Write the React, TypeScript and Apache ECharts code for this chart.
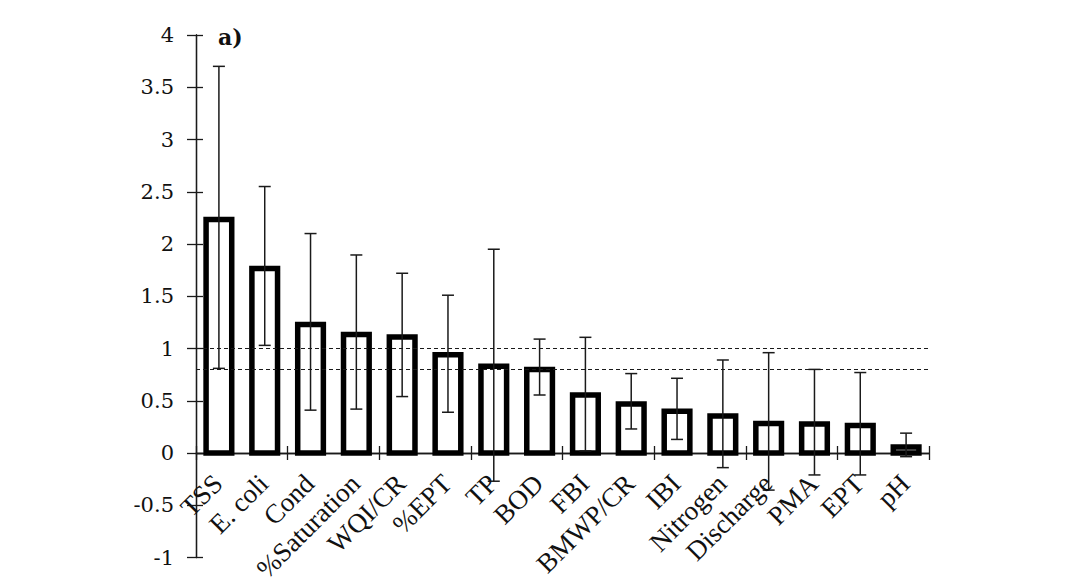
import React, { useEffect, useRef } from "react";
import * as echarts from "echarts";

const categories = ["TSS", "E. coli", "Cond", "%Saturation", "WQI/CR", "%EPT", "TP", "BOD", "FBI", "BMWP/CR", "IBI", "Nitrogen", "Discharge", "PMA", "EPT", "pH"];
const means = [2.235, 1.766, 1.23, 1.135, 1.11, 0.94, 0.83, 0.8, 0.555, 0.47, 0.4, 0.354, 0.283, 0.277, 0.264, 0.057];
const upper = [3.7, 2.55, 2.1, 1.895, 1.72, 1.51, 1.95, 1.09, 1.107, 0.76, 0.715, 0.89, 0.96, 0.8, 0.77, 0.19];
const lower = [0.81, 1.03, 0.41, 0.42, 0.54, 0.39, -0.27, 0.555, 0.02, 0.23, 0.13, -0.14, -0.355, -0.21, -0.21, -0.035];
const thresholds = [1, 0.8];
const yMin = -1;
const yMax = 4;
const yStep = 0.5;
const panelLabel = "a)";

const INK = "#1a1a1a";

export default function App() {
  const ref = useRef<HTMLDivElement>(null);
  useEffect(() => {
    if (!ref.current) return;
    const chart = echarts.init(ref.current, null, { renderer: "svg" });
    const barData = categories.map((_, i) => [i, means[i]]);
    const errData = categories.map((_, i) => [i, lower[i], upper[i]]);
    const labelData = categories.map((_, i) => [i, 0]);
    const yBase = {
      type: "value",
      min: yMin,
      max: yMax,
      interval: yStep,
      position: "left",
      splitLine: { show: false },
      axisLine: { show: true, onZero: false, lineStyle: { color: INK, width: 1.3 } },
    };
    const xBase = {
      type: "category",
      data: categories,
      position: "bottom",
      boundaryGap: true,
      splitLine: { show: false },
      axisLabel: { show: false },
    };
    chart.setOption({
      animation: false,
      backgroundColor: "#ffffff",
      grid: { left: 196, right: 139, top: 35, bottom: 22.5, containLabel: false, outerBoundsMode: "none" },
      xAxis: [
        {
          ...xBase,
          axisLine: { show: true, onZero: true, onZeroAxisIndex: 0, lineStyle: { color: INK, width: 1.3 } },
          axisTick: { show: true, inside: false, length: 7, alignWithLabel: false, lineStyle: { color: INK, width: 1.3 } },
        },
        {
          ...xBase,
          axisLine: { show: true, onZero: true, onZeroAxisIndex: 0, lineStyle: { color: INK, width: 1.3 } },
          axisTick: { show: true, inside: true, length: 7, alignWithLabel: false, lineStyle: { color: INK, width: 1.3 } },
        },
      ],
      yAxis: [
        {
          ...yBase,
          axisTick: { show: true, inside: false, length: 9, lineStyle: { color: INK, width: 1.3 } },
          axisLabel: {
            margin: 22,
            fontFamily: "DejaVu Serif",
            fontSize: 21,
            color: "#111",
          },
        },
        {
          ...yBase,
          axisTick: { show: true, inside: true, length: 7, lineStyle: { color: INK, width: 1.3 } },
          axisLabel: { show: false },
        },
      ],
      graphic: [
        {
          type: "text",
          left: 218,
          top: 26,
          style: {
            text: panelLabel,
            fontFamily: "DejaVu Serif",
            fontWeight: "bold",
            fontSize: 22,
            fill: "#111",
          },
        },
      ],
      series: [
        {
          type: "custom",
          xAxisIndex: 0,
          yAxisIndex: 0,
          data: barData,
          z: 3,
          clip: false,
          renderItem: (params: any, api: any) => {
            const i = api.value(0);
            const top = api.coord([i, api.value(1)]);
            const base = api.coord([i, 0]);
            const w = api.size([1, 0])[0] * 0.56;
            return {
              type: "rect",
              shape: { x: top[0] - w / 2, y: top[1], width: w, height: base[1] - top[1] },
              style: { fill: "#ffffff", stroke: "#000000", lineWidth: 5.5, lineJoin: "miter" },
            };
          },
          markLine: {
            silent: true,
            symbol: ["none", "none"],
            label: { show: false },
            lineStyle: { color: INK, width: 1, type: [4, 3] },
            data: thresholds.map((t) => ({ yAxis: t })),
          },
        },
        {
          type: "custom",
          xAxisIndex: 0,
          yAxisIndex: 0,
          data: errData,
          z: 5,
          renderItem: (params: any, api: any) => {
            const x = api.value(0);
            const lo = api.coord([x, api.value(1)]);
            const hi = api.coord([x, api.value(2)]);
            const cw = 6;
            const style = { stroke: INK, lineWidth: 1.5 };
            return {
              type: "group",
              children: [
                { type: "line", shape: { x1: lo[0], y1: lo[1], x2: hi[0], y2: hi[1] }, style },
                { type: "line", shape: { x1: hi[0] - cw, y1: hi[1], x2: hi[0] + cw, y2: hi[1] }, style },
                { type: "line", shape: { x1: lo[0] - cw, y1: lo[1], x2: lo[0] + cw, y2: lo[1] }, style },
              ],
            };
          },
        },
        {
          type: "custom",
          xAxisIndex: 0,
          yAxisIndex: 0,
          data: labelData,
          z: 6,
          silent: true,
          clip: false,
          renderItem: (params: any, api: any) => {
            const i = api.value(0);
            const p = api.coord([i, api.value(1)]);
            return {
              type: "text",
              x: p[0] - 1,
              y: p[1] + 26,
              rotation: Math.PI / 4,
              style: {
                text: categories[i],
                fontFamily: "Liberation Serif",
                fontSize: 27,
                fill: "#111",
                align: "right",
                verticalAlign: "middle",
              },
            };
          },
        },
      ],
    });
    return () => chart.dispose();
  }, []);
  return (
    <div
      ref={ref}
      style={{ position: "fixed", left: 0, top: 0, width: 1068, height: 580, background: "#fff" }}
    />
  );
}
